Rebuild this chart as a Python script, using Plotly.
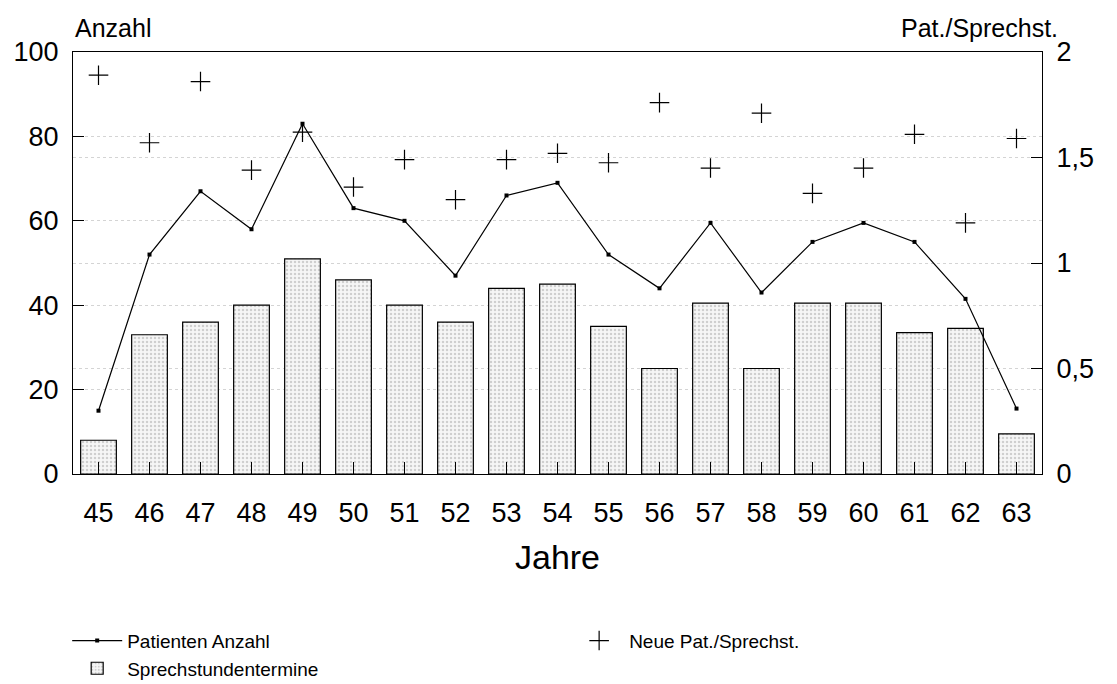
import plotly.graph_objects as go

jahre = ["45", "46", "47", "48", "49", "50", "51", "52", "53", "54",
         "55", "56", "57", "58", "59", "60", "61", "62", "63"]
sprechstundentermine = [8, 33, 36, 40, 51, 46, 40, 36, 44, 45,
                        35, 25, 40.5, 25, 40.5, 40.5, 33.5, 34.5, 9.5]
patienten_anzahl = [15, 52, 67, 58, 83, 63, 60, 47, 66, 69,
                    52, 44, 59.5, 43, 55, 59.5, 55, 41.5, 15.5]
neue_pat_pro_sprechst = [1.89, 1.57, 1.86, 1.44, 1.62, 1.36, 1.49, 1.30, 1.49, 1.52,
                         1.475, 1.76, 1.45, 1.71, 1.33, 1.45, 1.61, 1.19, 1.59]

left_ticks = [0, 20, 40, 60, 80, 100]
right_ticks = [0, 0.5, 1, 1.5, 2]
right_ticktext = ["0", "0,5", "1", "1,5", "2"]

FONT = "Liberation Sans, Arial, Helvetica, sans-serif"

fig = go.Figure()

fig.add_trace(go.Bar(
    x=jahre, y=sprechstundentermine, name="Sprechstundentermine",
    width=0.7, legendrank=3, legend="legend",
    marker=dict(color="#f6f6f6",
                line=dict(color="black", width=1.2),
                pattern=dict(shape=".", fgcolor="#a8a8a8", bgcolor="#f6f6f6",
                             size=4, solidity=0.3)),
))
fig.add_trace(go.Scatter(
    x=jahre, y=patienten_anzahl, name="Patienten Anzahl",
    mode="lines+markers", legendrank=1, legend="legend",
    line=dict(color="black", width=1.2),
    marker=dict(symbol="square", size=4, color="black"),
))
fig.add_trace(go.Scatter(
    x=jahre, y=neue_pat_pro_sprechst, name="Neue Pat./Sprechst.",
    mode="markers", yaxis="y2", legend="legend2",
    marker=dict(symbol="cross-thin", size=14, color="black",
                line=dict(color="black", width=1.2)),
))

legend_common = dict(
    orientation="v", xanchor="left", yanchor="top", y=-0.35,
    font=dict(size=19, family=FONT),
    itemwidth=50, traceorder="normal",
    bgcolor="rgba(0,0,0,0)",
)

# page has an 8px body margin: figure is offset accordingly
fig.update_layout(
    width=1101, height=676,
    margin=dict(l=65, r=67, t=44, b=210, autoexpand=False),
    plot_bgcolor="white", paper_bgcolor="white",
    font=dict(family=FONT, color="black", size=27),
    showlegend=True,
    legend=dict(x=-0.006, **legend_common),
    legend2=dict(x=0.512, **legend_common),
    xaxis=dict(
        type="category", range=[-0.5, 18.5], automargin=False,
        showline=True, linecolor="black", linewidth=1.2, mirror=True,
        ticks="inside", ticklen=12, tickcolor="black", tickwidth=1.2,
        ticklabelstandoff=14,
        tickfont=dict(size=27),
        showgrid=False,
        title=dict(text="Jahre", font=dict(size=34), standoff=18),
    ),
    yaxis=dict(
        range=[0, 100], tickvals=left_ticks, automargin=False,
        showline=True, linecolor="black", linewidth=1.2,
        ticks="inside", ticklen=11, tickcolor="black", tickwidth=1.2,
        ticklabelstandoff=8,
        tickfont=dict(size=27),
        showgrid=True, gridcolor="#d4d4d4", griddash="dot", gridwidth=1,
        zeroline=False,
    ),
    yaxis2=dict(
        overlaying="y", side="right", automargin=False,
        range=[0, 2], tickvals=right_ticks, ticktext=right_ticktext,
        showline=True, linecolor="black", linewidth=1.2,
        ticks="inside", ticklen=11, tickcolor="black", tickwidth=1.2,
        ticklabelstandoff=8,
        tickfont=dict(size=27),
        showgrid=True, gridcolor="#d4d4d4", griddash="dot", gridwidth=1,
        zeroline=False,
    ),
    annotations=[
        dict(text="Anzahl", xref="paper", yref="paper", x=0, y=1,
             xanchor="left", yanchor="bottom", yshift=8, showarrow=False,
             font=dict(size=25)),
        dict(text="Pat./Sprechst.", xref="paper", yref="paper", x=1.0186, y=1,
             xanchor="right", yanchor="bottom", yshift=8, showarrow=False,
             font=dict(size=25)),
    ],
)

fig.write_html("out.html")
